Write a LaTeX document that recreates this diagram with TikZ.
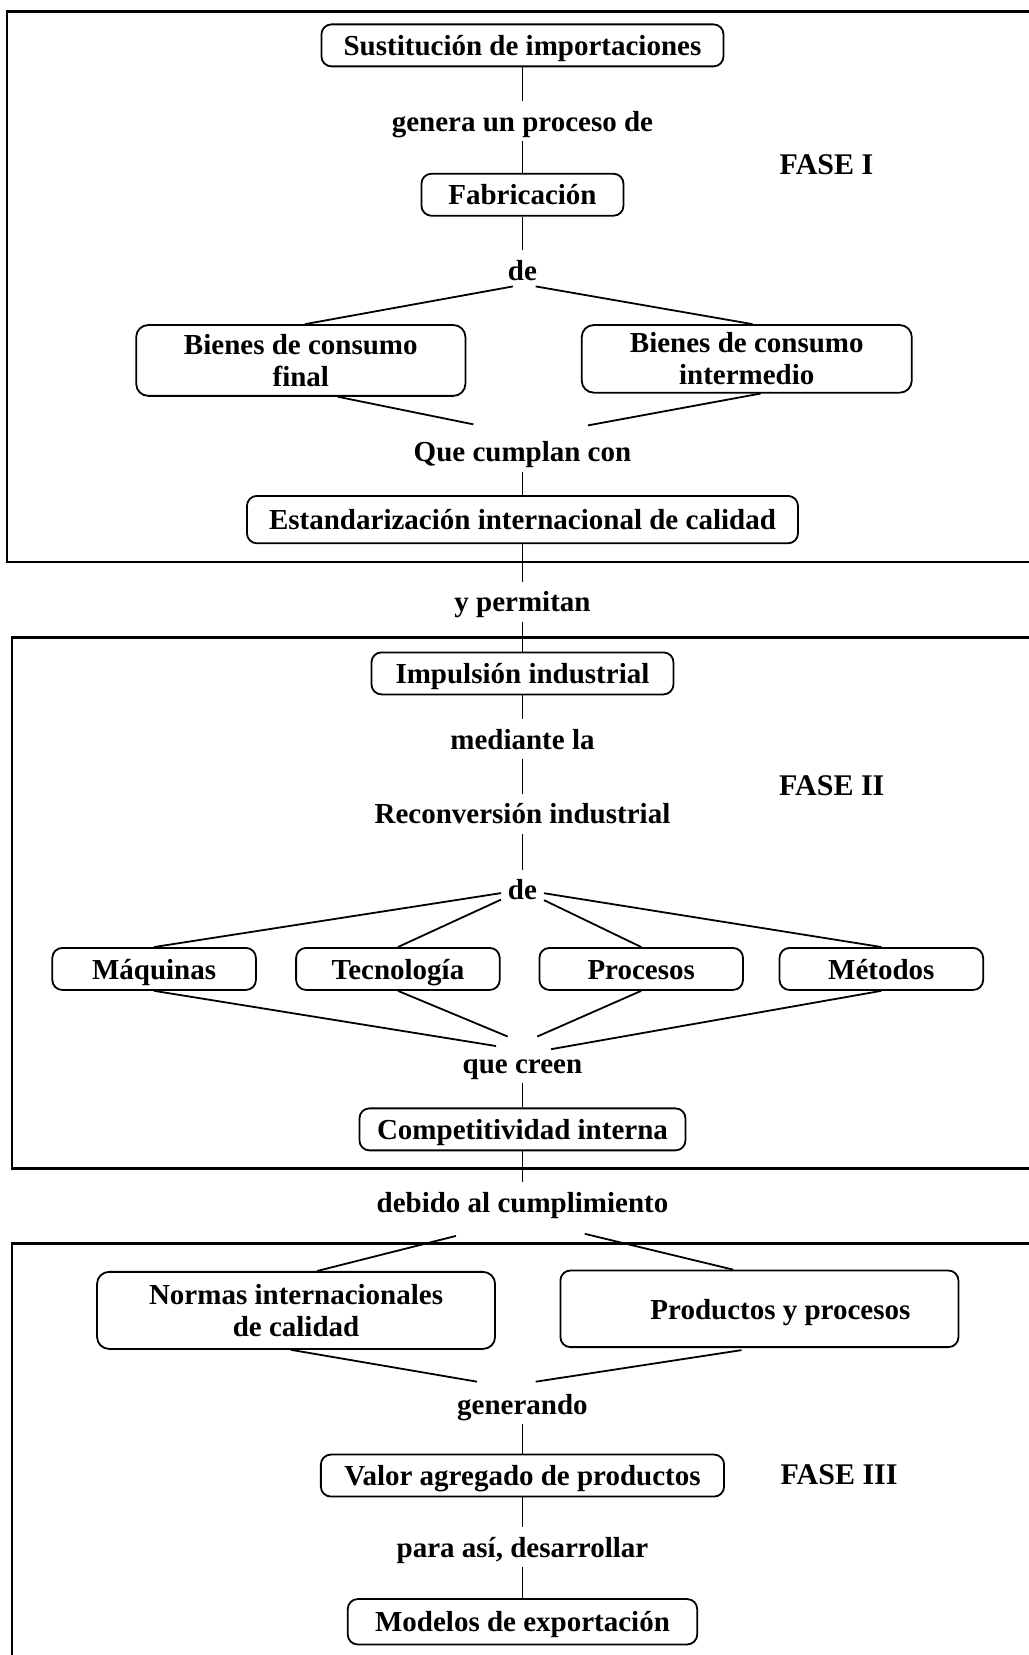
\documentclass[tikz,border=0pt]{standalone}
\usepackage{fontspec}
\setmainfont{Liberation Serif}
\tikzset{
    txt_node/.style = {align=center, inner sep=3.3pt, text centered, font=\fontsize{14.5}{16}\selectfont\bfseries, text height=11.6pt, text depth=1.4pt},
    box_node/.style = {txt_node, rectangle, rounded corners=5pt, draw=black, line width=0.9pt, minimum height=21pt},
    box2_node/.style = {align=center, text centered, font=\fontsize{14.5}{16}\selectfont\bfseries, rectangle, rounded corners=6pt, draw=black, line width=0.9pt},
    fase_node/.style = {txt_node, font=\fontsize{15}{18}\selectfont\bfseries},
    link/.style = {line width=0.6pt},
    dlink/.style = {line width=0.9pt},
    frame/.style = {line width=1.2pt}
}

\begin{document}
\begin{tikzpicture}
            [x=0.5277pt, y=-0.5277pt]

            \useasboundingbox (0,0) rectangle (974,1568);

            % marcos de las fases
            \draw[frame] (976,11) -- (6.5,11) -- (6.5,532.5) -- (976,532.5);
            \draw[frame] (976,604) -- (11.5,604) -- (11.5,1107) -- (976,1107);
            \draw[frame] (976,1178) -- (11.5,1178) -- (11.5,1570);

            % FASE I
            \node (sust) at (495,43) [box_node, minimum width=201pt] {Sustitución de importaciones};
            \node (genera) at (495,115) [txt_node] {genera un proceso de};
            \node (fase1) at (783,156) [fase_node] {FASE I};
            \node (fab) at (495,184.5) [box_node, minimum width=101pt] {Fabricación};
            \node (de1) at (495,256) [txt_node] {de};
            \node (bfinal) at (285,341.5) [box2_node, minimum width=164.6pt, minimum height=35.4pt] {Bienes de consumo\\final};
            \node (binter) at (707.5,340) [box2_node, minimum width=165pt, minimum height=33.8pt] {Bienes de consumo\\intermedio};
            \node (cumplan) at (495,428) [txt_node] {Que cumplan con};
            \node (estand) at (495,492.3) [box_node, minimum width=275.5pt, minimum height=23.7pt] {Estandarización internacional de calidad};
            \node (permitan) at (495,570) [txt_node] {y permitan};

            \draw[link] (sust) -- (genera);
            \draw[link] (genera) -- (fab);
            \draw[link] (fab) -- (de1);
            \draw[dlink] ([shift={(-9,-3.6)}]de1.south) -- ([shift={(4,0)}]bfinal.north);
            \draw[dlink] ([shift={(12.5,-3.6)}]de1.south) -- ([shift={(5.5,0)}]binter.north);
            \draw[dlink] ([shift={(35,0)}]bfinal.south) -- ([shift={(-46.5,-7)}]cumplan.north);
            \draw[dlink] ([shift={(13,0)}]binter.south) -- ([shift={(62,-6)}]cumplan.north);
            \draw[link] (cumplan) -- (estand);
            \draw[link] (estand) -- (permitan);

            % FASE II
            \node (impulsion) at (495,638) [box_node, minimum width=151pt] {Impulsión industrial};
            \node (mediante) at (495,700) [txt_node] {mediante la};
            \node (fase2) at (788,744) [fase_node] {FASE II};
            \node (reconv) at (495,771) [txt_node] {Reconversión industrial};
            \node (de2) at (495,843) [txt_node] {de};
            \node (maquinas) at (146,918) [box_node, minimum width=101.8pt] {Máquinas};
            \node (tecno) at (377,918) [box_node, minimum width=101.8pt] {Tecnología};
            \node (procesos) at (607.5,918) [box_node, minimum width=101.8pt] {Procesos};
            \node (metodos) at (835,918) [box_node, minimum width=101.8pt] {Métodos};
            \node (creen) at (495,1007) [txt_node] {que creen};
            \node (compet) at (495,1070) [box_node, minimum width=163pt] {Competitividad interna};
            \node (debido) at (495,1139) [txt_node] {debido al cumplimiento};

            \draw[link] (permitan) -- (impulsion);
            \draw[link] (impulsion) -- (mediante);
            \draw[link] (mediante) -- (reconv);
            \draw[link] (reconv) -- (de2);
            \draw[dlink] (de2) -- (maquinas.north);
            \draw[dlink] (de2) -- (tecno.north);
            \draw[dlink] (de2) -- (procesos.north);
            \draw[dlink] (de2) -- (metodos.north);
            \draw[dlink] (maquinas.south) -- ([shift={(-25,3)}]creen.north);
            \draw[dlink] (tecno.south) -- ([shift={(-14,-6)}]creen.north);
            \draw[dlink] (procesos.south) -- ([shift={(14,-6)}]creen.north);
            \draw[dlink] (metodos.south) -- ([shift={(27,6)}]creen.north);
            \draw[link] (creen) -- (compet);
            \draw[link] (compet) -- (debido);

            % FASE III
            \node (normas) at (280.5,1241.5) [box2_node, minimum width=199pt, minimum height=38.5pt] {Normas internacionales\\de calidad};
            \node (productos) at (719.5,1240) [box_node, minimum width=199pt, minimum height=38.3pt] {\hspace*{21pt}Productos y procesos};
            \node (generando) at (495,1330) [txt_node] {generando};
            \node (valor) at (495,1398) [box_node, minimum width=201.6pt] {Valor agregado de productos};
            \node (fase3) at (795,1397) [fase_node] {FASE III};
            \node (paraasi) at (495,1466) [txt_node] {para así, desarrollar};
            \node (modelos) at (495,1536.5) [box_node, minimum width=174.7pt, minimum height=22.7pt] {Modelos de exportación};

            \draw[dlink] ([shift={(-63,13)}]debido.south) -- ([shift={(20,0)}]normas.north);
            \draw[dlink] ([shift={(59,11)}]debido.south) -- ([shift={(-25,0)}]productos.north);
            \draw[dlink] ([shift={(-5,0)}]normas.south) -- ([shift={(-43,-2)}]generando.north);
            \draw[dlink] ([shift={(-17,2)}]productos.south) -- ([shift={(12.5,-2)}]generando.north);
            \draw[link] (generando) -- (valor);
            \draw[link] (valor) -- (paraasi);
            \draw[link] (paraasi) -- (modelos);
\end{tikzpicture}
\end{document}
